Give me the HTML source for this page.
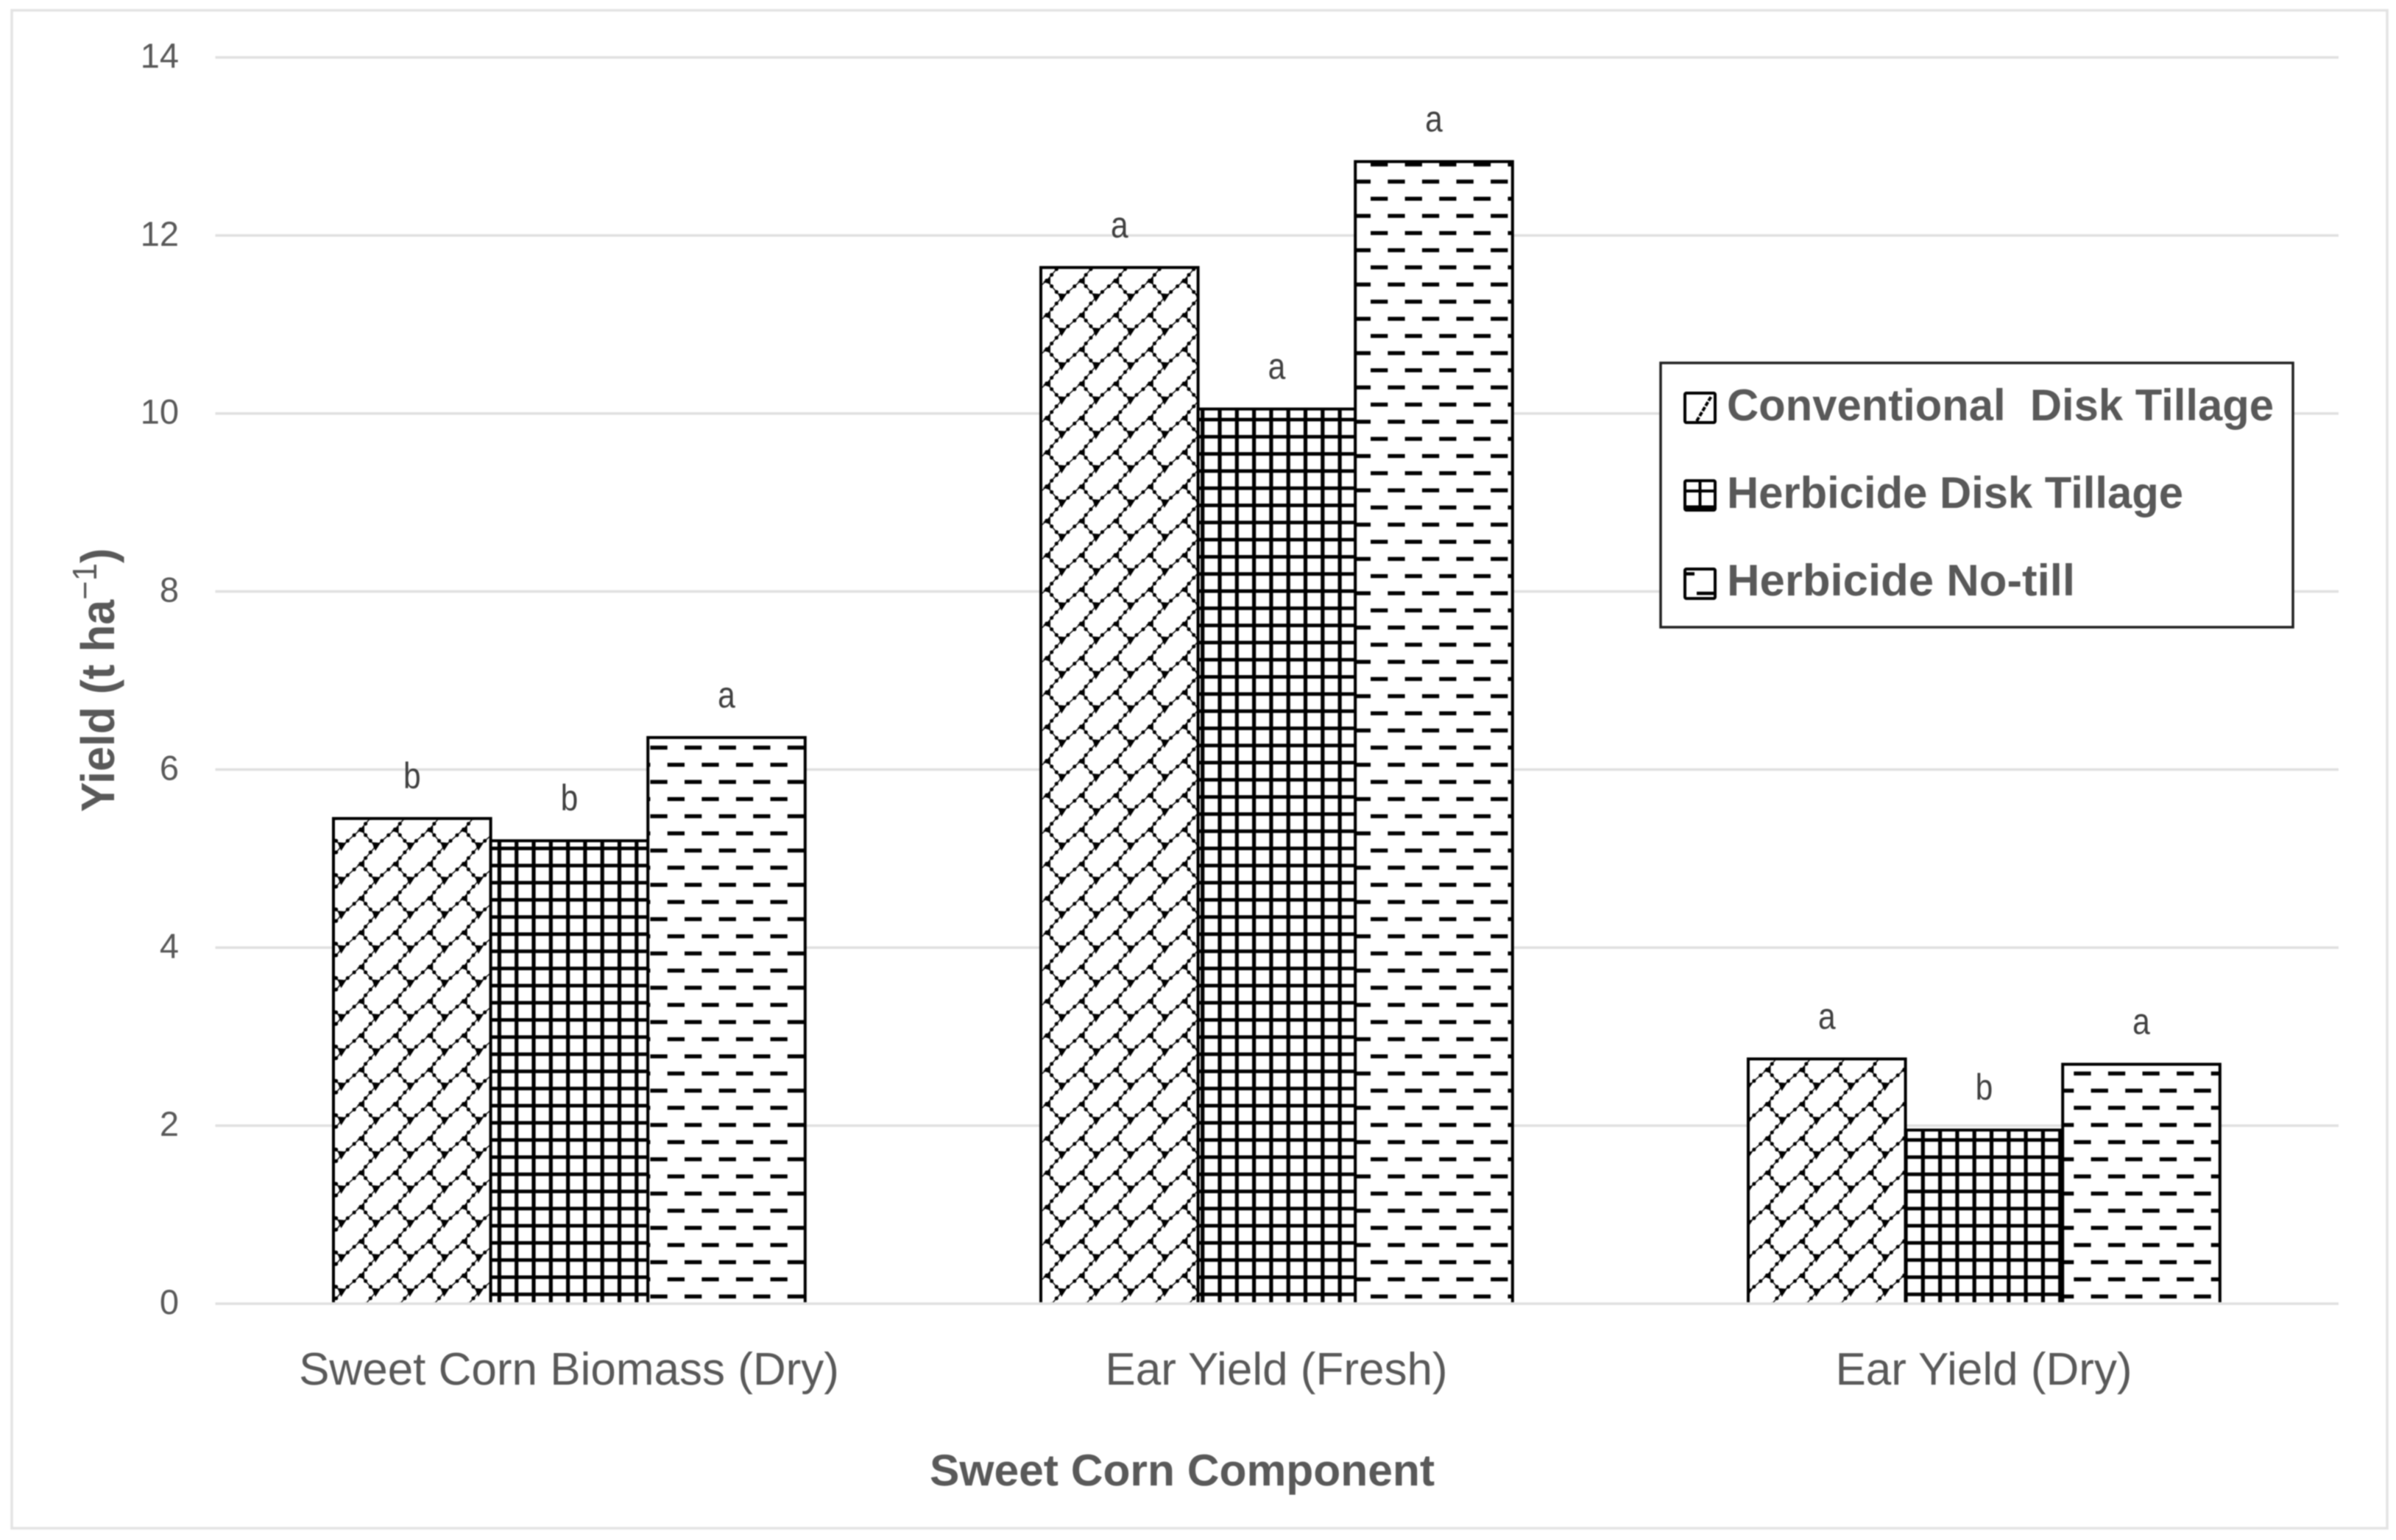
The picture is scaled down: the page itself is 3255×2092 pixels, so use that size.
<!DOCTYPE html>
<html lang="en">
<head>
<meta charset="utf-8">
<title>Sweet Corn Yield Chart</title>
<style>
  html, body { margin: 0; padding: 0; background: #fff; }
  svg { display: block; filter: blur(0.8px); }
  text { font-family: "Liberation Sans", sans-serif; }
  .bold { font-weight: 700; fill: #595959; }
  .tick { font-size: 47px; fill: #595959; }
  .cat { font-size: 62px; fill: #595959; text-anchor: middle; }
  .sig { font-size: 50px; fill: #404040; text-anchor: middle; }
</style>
</head>
<body>
<svg id="chart" xmlns="http://www.w3.org/2000/svg" width="3255" height="2092" viewBox="0 0 3255 2092">
  <defs>
    <polygon id="nodeA" points="-5,-6 7,-5 0,6" fill="#000"/>
    <pattern id="brick" patternUnits="userSpaceOnUse" width="46.6" height="46.6" patternTransform="translate(510 1150)">
      <g fill="none" stroke="#000" stroke-width="1.4">
        <path d="M0 46.6 L26.6 23.3 L46.6 0"/>
        <path d="M26.6 23.3 L46.6 46.6"/>
      </g>
      <g fill="none" stroke="#000" stroke-width="5.2" stroke-linecap="round">
        <path d="M0 46.6 L26.6 23.3" stroke-dasharray="0 11.8"/>
        <path d="M26.6 23.3 L46.6 0" stroke-dasharray="0 10.2"/>
        <path d="M26.6 23.3 L46.6 46.6" stroke-dasharray="0 10.2"/>
      </g>
      <polygon points="21.6,25.3 31.6,18.3 31.6,28.3" fill="#000"/>
      <use href="#nodeA" x="0" y="0"/>
      <use href="#nodeA" x="46.6" y="0"/>
      <use href="#nodeA" x="0" y="46.6"/>
      <use href="#nodeA" x="46.6" y="46.6"/>
    </pattern>
    <pattern id="grid" patternUnits="userSpaceOnUse" width="23.3" height="23.3" patternTransform="translate(701.7 1152.5)">
      <rect x="-2.6" y="0" width="5.2" height="23.3" fill="#000"/>
      <rect x="20.7" y="0" width="5.2" height="23.3" fill="#000"/>
      <rect x="0" y="-2.4" width="23.3" height="4.8" fill="#000"/>
      <rect x="0" y="20.9" width="23.3" height="4.8" fill="#000"/>
    </pattern>
    <pattern id="dash" patternUnits="userSpaceOnUse" width="46.6" height="46.6" patternTransform="translate(1885.3 246.7)">
      <rect x="0" y="-2.7" width="23.3" height="5.4" fill="#000"/>
      <rect x="0" y="43.9" width="23.3" height="5.4" fill="#000"/>
      <rect x="23.3" y="20.6" width="23.3" height="5.4" fill="#000"/>
    </pattern>
  </defs>

  <rect x="0" y="0" width="3255" height="2092" fill="#fff"/>
  <rect x="16" y="14" width="3227" height="2062" fill="#fff" stroke="#e3e3e3" stroke-width="3.5"/>

  <g id="gridlines"></g>
  <g id="y-ticks"></g>
  <g id="bars"></g>
  <g id="sig-letters"></g>
  <g id="x-labels"></g>

  <text class="bold" x="1263" y="2018" font-size="60" textLength="686" lengthAdjust="spacingAndGlyphs">Sweet Corn Component</text>
  <text class="bold" font-size="64" transform="translate(155 1103) rotate(-90) scale(0.95 1)">Yield (t ha<tspan font-size="46" dy="-24" font-weight="400">−1</tspan><tspan dy="24">)</tspan></text>

  <g>
    <rect x="2256" y="493" width="859" height="359" fill="#fff" stroke="#222" stroke-width="3.5"/>

    <g>
      <rect x="2289" y="534" width="41" height="40" rx="2" fill="#fff" stroke="#000" stroke-width="4"/>
      <path d="M2305 572 L2325 538" stroke="#000" stroke-width="4" stroke-dasharray="6 2" fill="none"/>
      <text class="bold" x="2346" y="571" font-size="60" textLength="743" lengthAdjust="spacingAndGlyphs" xml:space="preserve" style="white-space:pre">Conventional  Disk Tillage</text>
    </g>

    <g>
      <rect x="2289" y="653" width="41" height="40" rx="2" fill="#fff" stroke="#000" stroke-width="4"/>
      <path d="M2309.5 653 V693 M2289 667 H2330" stroke="#000" stroke-width="4" fill="none"/>
      <path d="M2289 689.5 H2330" stroke="#000" stroke-width="6" fill="none"/>
      <text class="bold" x="2346" y="690" font-size="60" textLength="620" lengthAdjust="spacingAndGlyphs">Herbicide Disk Tillage</text>
    </g>

    <g>
      <rect x="2289" y="773" width="41" height="40" rx="2" fill="#fff" stroke="#000" stroke-width="4"/>
      <path d="M2291 779.5 H2302 M2305 806 H2330" stroke="#000" stroke-width="4.5" fill="none"/>
      <text class="bold" x="2346" y="809" font-size="60" textLength="473" lengthAdjust="spacingAndGlyphs">Herbicide No-till</text>
    </g>
  </g>
</svg>

<script>
const categories = ["Sweet Corn Biomass (Dry)", "Ear Yield (Fresh)", "Ear Yield (Dry)"];
const seriesNames = ["Conventional Disk Tillage", "Herbicide Disk Tillage", "Herbicide No-till"];
const conventionalYield = [5.45, 11.64, 2.75];
const herbicideDiskYield = [5.2, 10.05, 1.95];
const herbicideNoTillYield = [6.36, 12.83, 2.69];
const conventionalLetters = ["b", "a", "a"];
const herbicideDiskLetters = ["b", "a", "b"];
const herbicideNoTillLetters = ["a", "a", "a"];
const yTickLabels = [0, 2, 4, 6, 8, 10, 12, 14];

const NS = "http://www.w3.org/2000/svg";
const seriesValues = [conventionalYield, herbicideDiskYield, herbicideNoTillYield];
const seriesLetters = [conventionalLetters, herbicideDiskLetters, herbicideNoTillLetters];
const seriesFills = ["brick", "grid", "dash"];

const plotLeft = 292.5, plotRight = 3177, zeroY = 1771, unitPx = 120.93;
const bandWidth = 961, barWidth = 213.6, groupInset = 160.5;

function yScale(v) { return zeroY - v * unitPx; }
function xBar(c, s) { return plotLeft + c * bandWidth + groupInset + s * barWidth; }
function xBandCenter(c) { return plotLeft + c * bandWidth + bandWidth / 2; }

function make(tag, attrs, parent) {
  const el = document.createElementNS(NS, tag);
  for (const k in attrs) el.setAttribute(k, attrs[k]);
  parent.appendChild(el);
  return el;
}

const gridG = document.getElementById("gridlines");
const tickG = document.getElementById("y-ticks");
yTickLabels.forEach(function (t) {
  const line = make("line", { x1: plotLeft, x2: plotRight, y1: yScale(t), y2: yScale(t), stroke: "#e0e0e0", "stroke-width": 3.5 }, gridG);
  
  
  const label = make("text", { x: 243, y: yScale(t) + 14, "text-anchor": "end", class: "tick" }, tickG);
  
  
  label.textContent = t;
});

const barsG = document.getElementById("bars");
const sigG = document.getElementById("sig-letters");
seriesValues.forEach(function (values, s) {
  values.forEach(function (v, c) {
    const x = xBar(c, s), top = yScale(v), bottom = yScale(0) - 2;
    const g = make("g", {}, barsG);
    
    
    make("rect", { x: x, y: top, width: barWidth, height: bottom - top, fill: "#fff" }, g);
    make("rect", { x: x, y: top, width: barWidth, height: bottom - top, fill: "url(#" + seriesFills[s] + ")" }, g);
    make("path", { d: "M" + x + " " + bottom + " V" + top + " H" + (x + barWidth) + " V" + bottom, fill: "none", stroke: "#000", "stroke-width": 4 }, g);
    const letter = make("text", { x: x + barWidth / 2, y: top - 41, class: "sig" }, sigG);
    
    
    letter.textContent = seriesLetters[s][c];
    letter.setAttribute("textLength", letter.getComputedTextLength() * 0.85);
    letter.setAttribute("lengthAdjust", "spacingAndGlyphs");
  });
});

const xG = document.getElementById("x-labels");
categories.forEach(function (name, c) {
  const label = make("text", { x: xBandCenter(c), y: 1881, class: "cat" }, xG);
  
  
  label.textContent = name;
});
</script>
</body>
</html>
